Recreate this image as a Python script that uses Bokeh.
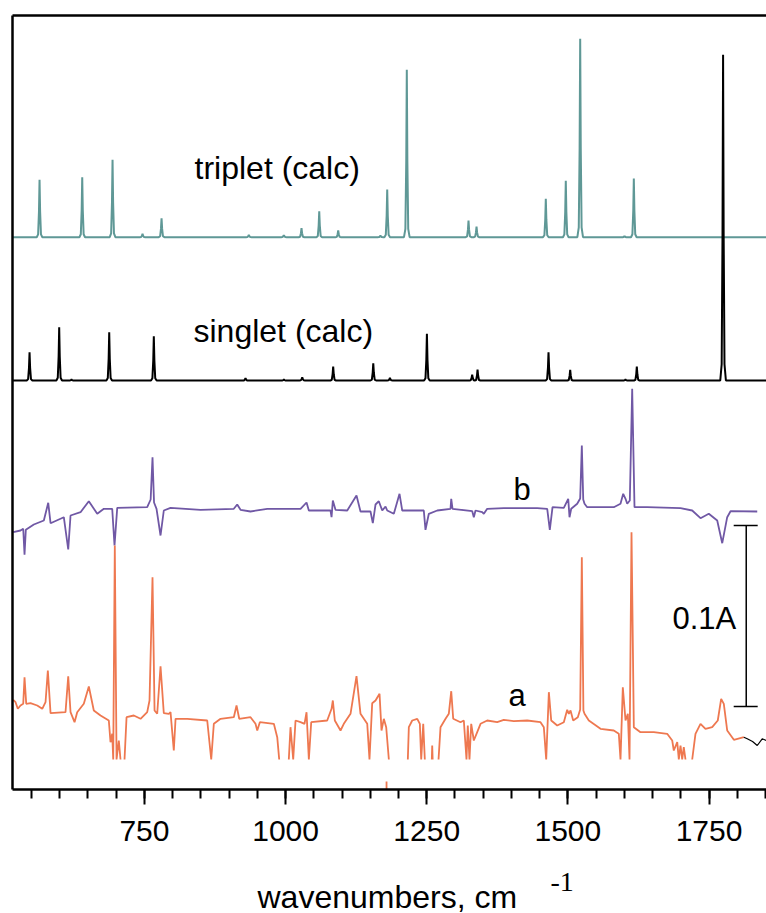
import numpy as np
from bokeh.plotting import figure
from bokeh.layouts import column
from bokeh.models import Range1d, LinearAxis, FixedTicker, SingleIntervalTicker, Label
from bokeh.embed import file_html
from bokeh.resources import INLINE

nan = float("nan")

# ---------------- data ----------------
# calculated spectra: peak positions (cm-1) and relative intensities
triplet_pos = [564.2, 639.8, 693.5, 746.6, 780.3, 934.9, 996.9, 1028.2, 1059.6, 1093.2,
               1168.0, 1180.0, 1214.7, 1324.0, 1338.2, 1460.9, 1496.3, 1521.8, 1600.3, 1616.8]
triplet_int = [57.4, 60.0, 77.4, 3.4, 19.0, 2.4, 2.0, 9.0, 26.0, 6.7,
               1.7, 47.7, 167.4, 16.7, 10.7, 38.4, 56.4, 198.4, 1.0, 58.7]

singlet_pos = [546.5, 599.0, 620.8, 687.6, 766.6, 929.0, 997.0, 1029.5, 1084.3, 1155.3,
               1184.8, 1250.3, 1330.5, 1340.0, 1465.7, 1504.1, 1602.0, 1622.1, 1774.9]
singlet_int = [28.3, 53.3, 1.0, 48.3, 44.3, 2.3, 1.0, 3.3, 14.0, 17.3,
               2.7, 46.7, 5.7, 11.0, 28.3, 10.7, 1.0, 14.0, 325.7]

# experimental difference spectrum b (wavenumber, absorbance change, arb.)
b_wn = [517.6, 530.5, 535.3, 537.6, 539.9, 554.1, 571.8, 579.6, 583.7, 607.2, 615.0, 619.1,
        636.8, 651.5, 666.4, 678.1, 692.9, 697.0, 701.8, 754.9, 761.0, 764.3, 767.0, 771.4,
        778.5, 784.3,
        796.2, 849.3, 908.3, 914.3, 920.2, 937.9, 967.5, 1026.5, 1037.1, 1041.2, 1079.6,
        1081.4, 1083.7, 1088.4, 1109.2, 1125.6, 1132.7, 1150.4, 1154.5, 1159.3, 1165.1,
        1171.2, 1177.0, 1180.0, 1191.7, 1201.8, 1206.6, 1244.8, 1247.8, 1253.7, 1268.6,
        1292.1, 1293.4, 1295.7, 1330.6, 1333.4, 1336.4, 1348.3, 1351.1, 1357.1, 1386.5,
        1445.7, 1463.4, 1468.0, 1472.8, 1492.8, 1500.6, 1502.9, 1505.9, 1516.5, 1521.8,
        1524.7, 1527.2, 1529.5, 1534.2, 1581.3, 1593.2, 1598.0, 1602.1, 1605.1, 1609.7,
        1613.9, 1618.0,
        1640.5, 1699.5, 1720.2, 1734.9, 1749.6, 1764.5, 1773.4, 1782.2, 1788.1, 1835.4]
b_abs = [-23.7, -22.0, -20.3, -46.3, -21.3, -16.0, -12.0, 5.7, -14.7, -8.7, -41.0, -7.0,
         -3.7, 7.3, -5.3, -0.3, -0.3, -37.0, 0.7, 1.3, 9.0, 51.3, 6.0, -0.3,
         -27.0, -2.0,
         0.7, -1.3, -0.3, 4.0, -1.3, -3.0, -0.3, -0.3, 6.0, -2.0, -2.0,
         -8.7, 8.0, -1.3, -2.0, 13.0, -3.0, -3.0, -14.7, 4.0, 7.3,
         -2.0, 2.0, -2.0, -5.3, 14.7, -2.0, -2.0, -21.3, -5.3, -2.0,
         -0.3, 9.7, -0.3, -2.7, -8.7, -2.0, -3.7, -5.3, -0.3, 0.3,
         0.3, -0.3, -21.3, 1.3, 0.7, 9.7, -8.7, -0.3, 4.7, 10.0,
         63.0, 9.0, 4.7, 1.3, 1.3, 4.7, 14.7, 9.7, 4.7, 8.0,
         119.7, 1.3,
         1.3, 0.3, -2.0, -9.7, -5.3, -12.0, -34.7, -8.7, -2.7, -3.0]

# experimental spectrum a (NaN = trace below the displayed range)
a_wn = [517.6, 521.7, 525.7, 530.5, 535.3, 537.6, 540.6, 548.2, 560.1, 569.0, 574.8, 578.9,
        583.7, 610.2, 615.0, 619.1, 626.2, 630.9, 642.6, 651.5, 660.3, 672.2, 686.9, 689.9,
        692.9, 694.7, 697.5, 700.6, 704.6, 707.6, nan, 714.7, 718.3, 731.2, 743.1, 754.9,
        759.0, 764.3, 767.9, 772.6, 778.5, 784.3, 793.2, 796.2, 802.0, 805.1, 825.8, 861.2,
        868.3, 872.9, 884.8, 908.3, 913.1, 917.9, 937.9, 946.7, 949.8, 954.4, 979.2, 985.2,
        988.7, nan, 1005.7, 1008.7, 1013.5, 1017.6, 1026.5, 1033.5, 1037.1, 1041.2, 1045.4,
        1073.7, 1081.4, 1083.7, 1087.2, 1097.3, 1103.1, 1115.0, 1125.6, 1132.7, 1144.6,
        1148.6, 1153.4, 1159.3, 1166.4, 1169.9, 1174.0, 1178.2, 1182.9, nan, 1216.5, 1218.3,
        1224.3, 1233.2, 1237.8, 1240.2, 1243.8, 1246.6, nan, 1259.0, 1259.7, 1260.5, nan,
        1270.9, 1274.4, 1283.3, 1289.1, 1293.4, 1296.9, 1309.8, 1315.7, 1320.4, 1322.7,
        1325.7, 1328.8, 1333.4, 1339.4, 1345.3, 1357.1, 1374.8, 1386.5, 1404.2, 1427.9,
        1451.5, 1457.4, 1461.6, 1466.3, 1470.5, 1481.1, 1492.8, 1498.8, 1501.7, 1504.7,
        1509.4, 1517.6, 1521.8, 1524.7, 1527.5, 1529.5, 1537.1, 1557.8, 1581.3, 1590.2,
        1593.2, 1597.3,
        1602.1, 1606.2, 1609.2, 1612.7, 1616.8, 1628.6, 1652.2, 1675.9, 1684.8, 1687.6,
        1693.7, 1696.5, 1699.5, 1702.5, 1705.3, 1708.3, nan, 1720.2, 1726.0, 1734.9, 1743.7,
        1755.6, 1765.5, 1771.5, 1776.2, 1782.2, 1794.0, 1811.7]
a_abs = [13.7, 11.3, 4.7, 8.0, 9.7, 36.3, 9.7, 10.3, 8.0, 4.7, 11.3, 43.0,
         0.3, 1.3, 37.3, 1.3, -8.7, 1.3, 9.7, 27.0, 3.0, -2.0, -7.0, -28.7,
         -20.3, -46.0, 168.0, -46.0, -27.0, -46.0, nan, -46.0, -3.7, -2.0, -5.3, 1.3,
         13.0, 136.3, 3.0, -0.3, 47.3, 0.3, -0.3, 1.3, -37.0, -5.3, -5.3, -7.0,
         -46.0, -10.3, -5.3, -3.7, 8.0, -5.3, -3.7, -10.3, -17.0, -8.7, -10.3, -23.7,
         -46.0, nan, -46.0, -13.7, -46.0, -7.0, -8.7, -10.3, 1.3, -46.0, -8.7,
         -7.0, 4.7, 13.0, -7.0, -17.0, -10.3, -0.3, 37.3, -0.3, -10.3,
         -46.0, 10.3, 13.0, 19.7, -17.0, -5.3, -13.7, -46.0, nan, -46.0, -13.7,
         -7.0, -5.3, -10.3, -46.0, -10.3, -46.0, nan, -46.0, -32.0, -46.0, nan,
         -46.0, -13.7, -5.3, -0.3, 22.3, -5.3, -8.7, -7.0, -46.0, -12.0,
         -46.0, -10.3, -27.0, -18.7, -10.3, -7.0, -8.7, -6.3, -7.7, -7.0,
         -8.7, -13.7, -46.0, 21.3, -7.0, -12.0, -8.7, 3.7, -0.3, 3.0,
         -7.0, -3.7, 4.0, 156.3, 3.0, -0.3, -7.0, -15.3, -17.0, -20.3,
         -46.0, 26.3,
         -7.0, -0.3, -46.0, 181.3, -13.7, -18.7, -18.7, -20.3, -27.0, -37.0,
         -28.7, -46.0, -32.0, -46.0, -33.7, -46.0, nan, -46.0, -20.3, -10.3, -15.3,
         -13.7, -7.0, 14.7, 9.7, -17.0, -26.3, -23.7]
# stray segment of trace a near the axis, and the black end of the trace
a_stray_wn = [1178.8, 1178.8]
a_stray_abs = [-68.0, -76.0]
a_end_wn = [1811.7, 1817.7, 1827.1, 1835.4, 1844.2, 1851.8]
a_end_abs = [-23.7, -25.3, -28.0, -32.0, -25.3, -27.0]

scale_bar_abs = 0.1          # A
UNITS_PER_A = 1810.0         # plot units per absorbance unit

major_ticks = [750, 1000, 1250, 1500, 1750]

# ---------------- layout constants ----------------
X_START, X_END = 516.3, 1851.8
Y_TOP = 774.0
TRIPLET_OFF, SINGLET_OFF, B_OFF, A_OFF = 552.3, 409.0, 281.0, 76.0
W, H_MAIN, H_TITLE = 766, 862, 51

SHAPE_DX = np.array([-5.0, -2.5, -1.0, 0.0, 1.0, 2.5, 5.0])
SHAPE_F = np.array([0.0, 0.05, 0.45, 1.0, 0.45, 0.05, 0.0])


def stick_trace(pos, inten, x0, x1):
    xs, ys = [x0], [0.0]
    for c, h in sorted(zip(pos, inten)):
        xs.extend(c + SHAPE_DX)
        ys.extend(h * SHAPE_F)
    xs.append(x1)
    ys.append(0.0)
    return np.array(xs), np.array(ys)


FONT = "Liberation Sans"
xr = Range1d(X_START, X_END)

p = figure(width=W, height=H_MAIN, output_backend="svg", toolbar_location=None,
           x_range=xr, y_range=Range1d(0, Y_TOP),
           y_axis_location=None, min_border_left=12, min_border_right=0,
           min_border_top=15, min_border_bottom=H_MAIN - 15 - int(Y_TOP))
p.outline_line_color = None
p.grid.visible = False
p.background_fill_color = "white"
p.border_fill_color = "white"

xa = p.xaxis[0]
xa.ticker = SingleIntervalTicker(interval=250, num_minor_ticks=5)
xa.axis_line_width = 2.5
xa.axis_line_color = "black"
xa.major_tick_line_width = 2
xa.minor_tick_line_width = 2
xa.major_tick_line_color = "black"
xa.minor_tick_line_color = "black"
xa.major_tick_out = 15
xa.major_tick_in = 0
xa.minor_tick_out = 9
xa.minor_tick_in = 0
xa.major_label_text_font = FONT
xa.major_label_text_font_size = "30px"
xa.major_label_text_color = "black"
xa.major_label_standoff = 16
xa.major_label_overrides = {t: str(t) for t in major_ticks}

for loc in ("left", "above"):
    ax = LinearAxis(ticker=FixedTicker(ticks=[]), major_label_text_font_size="0px",
                    major_tick_out=0, major_tick_in=0, minor_tick_out=0, minor_tick_in=0,
                    major_label_standoff=0, axis_line_width=2.5, axis_line_color="black")
    p.add_layout(ax, loc)

# calculated spectra
tx, ty = stick_trace(triplet_pos, triplet_int, X_START + 1, X_END)
p.line(tx, ty + TRIPLET_OFF, line_color="#5f9896", line_width=2)
sx, sy = stick_trace(singlet_pos, singlet_int, X_START + 1, X_END)
p.line(sx, sy + SINGLET_OFF, line_color="black", line_width=2)

# experimental spectra
p.line(b_wn, np.array(b_abs) + B_OFF, line_color="#7058a5", line_width=1.8)
p.line(a_wn, np.array(a_abs) + A_OFF, line_color="#ee7850", line_width=1.8)
p.line(a_stray_wn, np.array(a_stray_abs) + A_OFF, line_color="#ee7850", line_width=1.8)
p.line(a_end_wn, np.array(a_end_abs) + A_OFF, line_color="black", line_width=1.2)

# scale bar 0.1 A
bar_len = scale_bar_abs * UNITS_PER_A
bar_x, bar_y0 = 1815.9, A_OFF + 7
p.segment(x0=[bar_x, 1793.7, 1793.7], y0=[bar_y0, bar_y0, bar_y0 + bar_len],
          x1=[bar_x, 1836.2, 1836.2], y1=[bar_y0 + bar_len, bar_y0, bar_y0 + bar_len],
          line_color="black", line_width=1.5)


def add_label(fig, text, x, y, size, font=FONT):
    fig.add_layout(Label(x=x, y=y, text=text, text_font=font, text_font_size=size,
                         text_color="black", text_baseline="alphabetic", text_align="left"))


add_label(p, "triplet (calc)", 838.7, 622, "32px")
add_label(p, "singlet (calc)", 836.9, 458.5, "32px")
add_label(p, "b", 1403.7, 300, "31px")
add_label(p, "a", 1394.9, 94, "31px")
add_label(p, "0.1A", 1685.3, 171, "31px")

# axis title strip (shares the x scale)
t = figure(width=W, height=H_TITLE, output_backend="svg", toolbar_location=None,
           x_range=xr, y_range=Range1d(0, H_TITLE),
           x_axis_location=None, y_axis_location=None,
           min_border_left=12, min_border_right=0, min_border_top=0, min_border_bottom=0)
t.outline_line_color = None
t.grid.visible = False
t.background_fill_color = "white"
t.border_fill_color = "white"
add_label(t, "wavenumbers, cm", 950.2, 17, "32px")
add_label(t, "-1", 1469.2, 32, "28px", font="Liberation Serif")

layout = column(p, t, spacing=0)
open("out.html", "w").write(file_html(layout, INLINE))
